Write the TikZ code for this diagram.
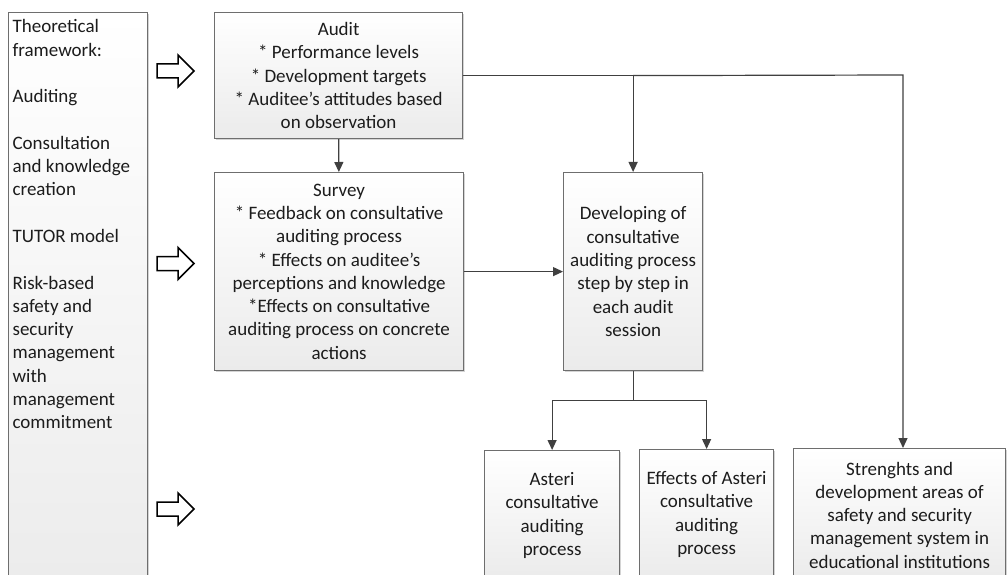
\documentclass[tikz,border=0pt]{standalone}
\usepackage{fontspec}
\setmainfont{Carlito}
\usetikzlibrary{arrows.meta,shadows}
\definecolor{boxline}{HTML}{6E6E6E}
\definecolor{connline}{HTML}{404040}
\definecolor{boxbottom}{HTML}{EBEBEB}
\definecolor{txt}{HTML}{1C1C1C}
\tikzset{
  box/.style={draw=boxline, line width=1.2pt, top color=white, bottom color=boxbottom,
    drop shadow={shadow xshift=1.6pt, shadow yshift=-1.6pt, fill=gray!60, opacity=.55},
    align=center, inner sep=3pt, text=txt, anchor=north west},
  conn/.style={draw=connline, line width=1.2pt},
  arr/.style={conn, -{Triangle[length=10pt,width=9pt]}},
  hollow/.style={draw=black, line width=1.5pt, fill=white, line join=miter},
}
\begin{document}
\begin{tikzpicture}[x=1pt, y=-1pt, font=\fontsize{19}{23.3}\selectfont]
\clip (0,0) rectangle (1007,575);
\fill[white] (0,0) rectangle (1007,575);

% theoretical framework column
\node[box, align=left, inner xsep=4pt, inner ysep=7pt] (theory) at (8,12)
  {\parbox[t][580pt][t]{131pt}{\raggedright
   Theoretical\\ framework:\\[23.3pt] Auditing\\[23.3pt] Consultation\\ and knowledge\\ creation\\[23.3pt]
   TUTOR model\\[23.3pt] Risk-based\\ safety and\\ security\\ management\\ with\\ management\\ commitment}};

% hollow arrows
\foreach \yy in {0,192.5,438}{
  \draw[hollow, shift={(0,\yy)}] (157,64) -- (178,64) -- (178,55) -- (194,71) -- (178,87) -- (178,78) -- (157,78) -- cycle;
}

% main boxes
\node[box, minimum width=248pt, minimum height=126pt] (audit) at (214,12)
  {Audit\\ * Performance levels\\ * Development targets\\ * Auditee’s attitudes based\\ on observation};
\node[box, minimum width=249pt, minimum height=198pt] (survey) at (214,172)
  {Survey\\ * Feedback on consultative\\ auditing process\\ * Effects on auditee’s\\ perceptions and knowledge\\ *Effects on consultative\\ auditing process on concrete\\ actions};
\node[box, minimum width=139pt, minimum height=198pt] (dev) at (563,172)
  {Developing of\\ consultative\\ auditing process\\ step by step in\\ each audit\\ session};
\node[box, minimum width=135pt, minimum height=130pt] (asteri) at (484,450)
  {Asteri\\ consultative\\ auditing\\ process};
\node[box, minimum width=134pt, minimum height=130pt] (effects) at (639,449)
  {Effects of Asteri\\ consultative\\ auditing\\ process};
\node[box, minimum width=212pt, minimum height=133pt] (strengths) at (793,448)
  {Strenghts and\\ development areas of\\ safety and security\\ management system in\\ educational institutions};

% connectors
\draw[arr] (audit) -- (survey);
\draw[arr] (survey) -- (dev);
\draw[conn] (audit.east) -- (dev.north |- audit.east);
\draw[arr] (dev.north |- audit.east) -- (dev.north);
\coordinate (rightturn) at (903,75);
\draw[arr] (dev.north |- audit.east) -- (rightturn) -- (rightturn |- strengths.north);
\draw[conn] (dev.south) -- ++(0,29) coordinate (split);
\draw[arr] (split) -| (asteri.north);
\draw[arr] (split) -| (effects.north);
\end{tikzpicture}
\end{document}
